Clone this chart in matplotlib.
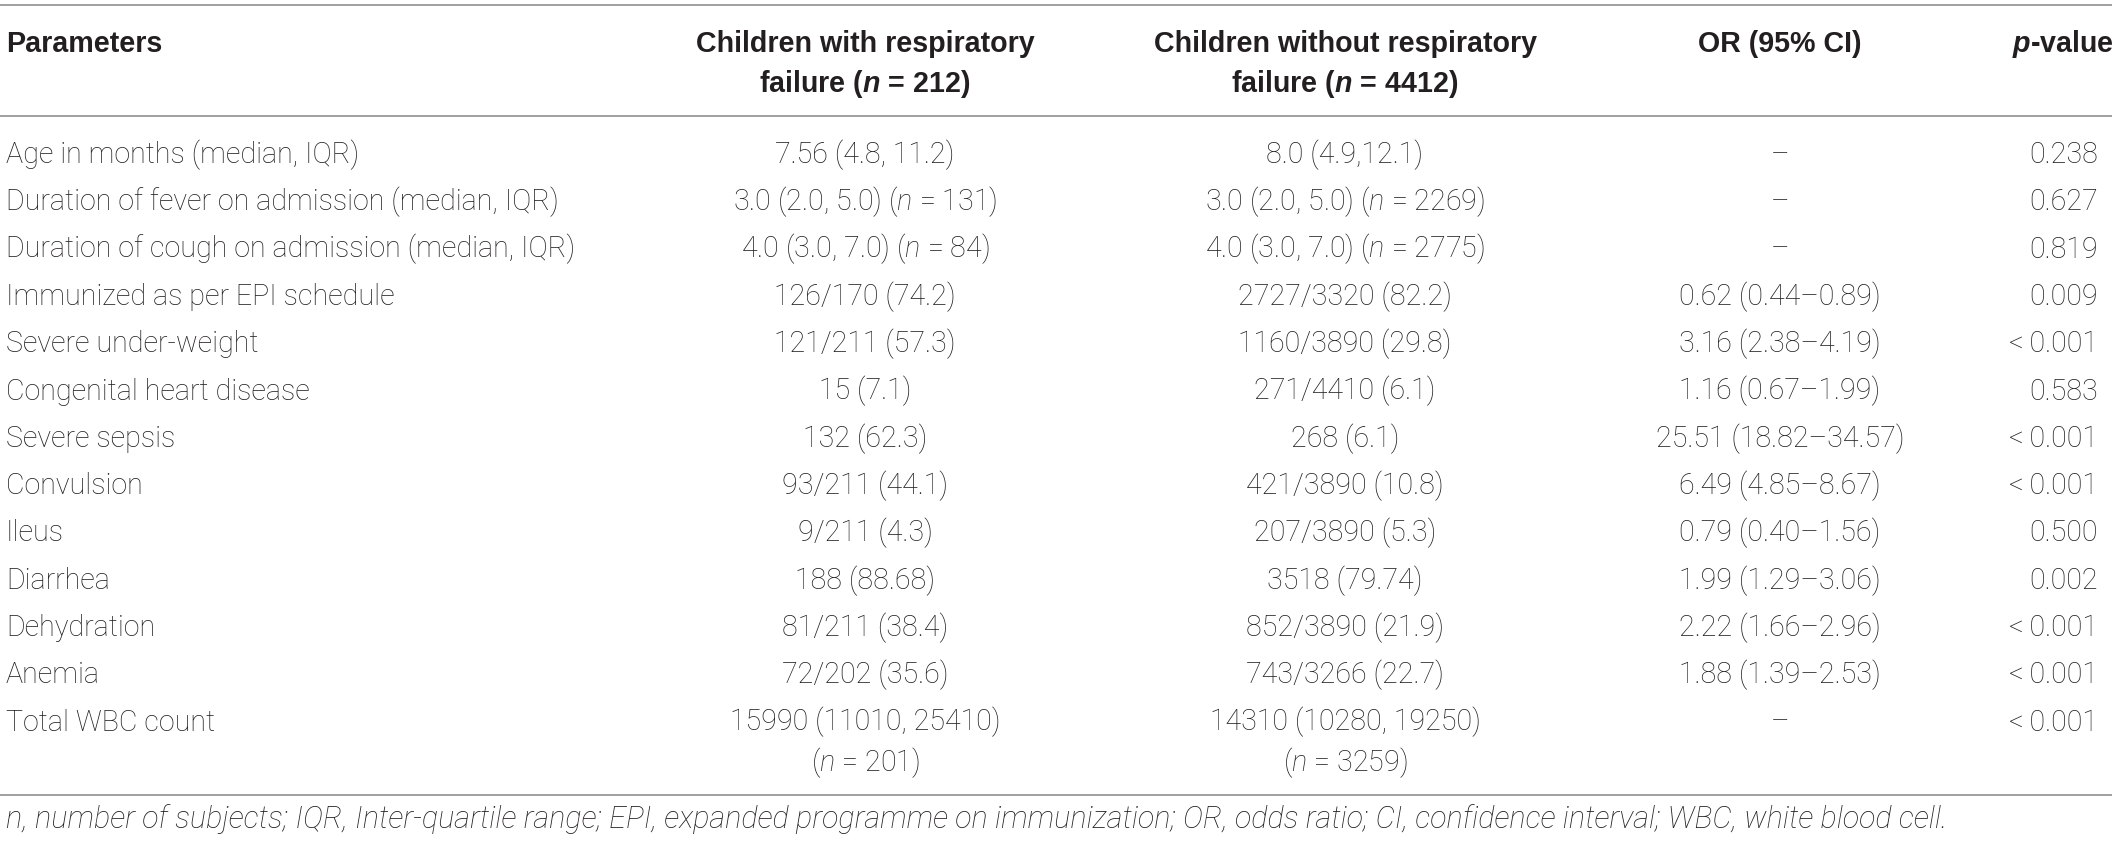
import matplotlib
matplotlib.use("Agg")
import matplotlib.pyplot as plt

plt.rcParams['font.family'] = ['Roboto', 'DejaVu Sans']
plt.rcParams['mathtext.fontset'] = 'custom'
plt.rcParams['mathtext.rm'] = 'Roboto:light'
plt.rcParams['mathtext.it'] = 'Roboto:italic:light'
plt.rcParams['mathtext.bf'] = 'Liberation Sans:bold'
plt.rcParams['mathtext.bfit'] = 'Liberation Sans:italic:bold'

N = r'$\mathit{n}$'
NB = r'$\mathbfit{n}$'

headers = ["Parameters",
           "Children with respiratory\nfailure (" + NB + " = 212)",
           "Children without respiratory\nfailure (" + NB + " = 4412)",
           "OR (95% CI)",
           r"$\mathbfit{p}$-value"]

parameters = ["Age in months (median, IQR)",
              "Duration of fever on admission (median, IQR)",
              "Duration of cough on admission (median, IQR)",
              "Immunized as per EPI schedule",
              "Severe under-weight",
              "Congenital heart disease",
              "Severe sepsis",
              "Convulsion",
              "Ileus",
              "Diarrhea",
              "Dehydration",
              "Anemia",
              "Total WBC count"]

with_rf = ["7.56 (4.8, 11.2)",
           "3.0 (2.0, 5.0) (" + N + " = 131)",
           "4.0 (3.0, 7.0) (" + N + " = 84)",
           "126/170 (74.2)",
           "121/211 (57.3)",
           "15 (7.1)",
           "132 (62.3)",
           "93/211 (44.1)",
           "9/211 (4.3)",
           "188 (88.68)",
           "81/211 (38.4)",
           "72/202 (35.6)",
           "15990 (11010, 25410)\n(" + N + " = 201)"]

without_rf = ["8.0 (4.9,12.1)",
              "3.0 (2.0, 5.0) (" + N + " = 2269)",
              "4.0 (3.0, 7.0) (" + N + " = 2775)",
              "2727/3320 (82.2)",
              "1160/3890 (29.8)",
              "271/4410 (6.1)",
              "268 (6.1)",
              "421/3890 (10.8)",
              "207/3890 (5.3)",
              "3518 (79.74)",
              "852/3890 (21.9)",
              "743/3266 (22.7)",
              "14310 (10280, 19250)\n(" + N + " = 3259)"]

odds_ratio = ["\u2013", "\u2013", "\u2013",
              "0.62 (0.44\u20130.89)",
              "3.16 (2.38\u20134.19)",
              "1.16 (0.67\u20131.99)",
              "25.51 (18.82\u201334.57)",
              "6.49 (4.85\u20138.67)",
              "0.79 (0.40\u20131.56)",
              "1.99 (1.29\u20133.06)",
              "2.22 (1.66\u20132.96)",
              "1.88 (1.39\u20132.53)",
              "\u2013"]

p_values = ["0.238", "0.627", "0.819", "0.009", "<\u20090.001", "0.583",
            "<\u20090.001", "<\u20090.001", "0.500", "0.002", "<\u20090.001",
            "<\u20090.001", "<\u20090.001"]

footnote = ("n, number of subjects; IQR, Inter-quartile range; EPI, expanded programme on "
            "immunization; OR, odds ratio; CI, confidence interval; WBC, white blood cell.")

W, H = 2121, 843
fig = plt.figure(figsize=(W / 100, H / 100), dpi=100)
ax = fig.add_axes([0, 0, 1, 1])
ax.set_xlim(0, W)
ax.set_ylim(H, 0)
ax.axis('off')

txt = '#231f20'
line_c = '#a0a0a0'
fs = 20.6
x_par, x_c1, x_c2, x_or, x_p, x_ph = 6, 865, 1345, 1780, 2098, 2114

for y in (5, 116, 795):
    ax.plot([0, 2112], [y, y], color=line_c, lw=1.4, solid_capstyle='butt')

# header
hk = dict(fontsize=fs, color=txt, va='baseline',
          family=['Liberation Sans', 'DejaVu Sans'], fontweight='bold')
hb1, hb2 = 52, 92
ax.text(x_par, hb1, headers[0], ha='left', **hk)
for xc, h in ((x_c1, headers[1]), (x_c2, headers[2])):
    for k, part in enumerate(h.split("\n")):
        ax.text(xc, hb1 + k * (hb2 - hb1), part, ha='center', **hk)
ax.text(x_or, hb1, headers[3], ha='center', **hk)
ax.text(x_ph, hb1, headers[4], ha='right', **hk)

# body
y0, dy, dsub = 163, 47.3, 41
dk = dict(fontsize=fs, color=txt, fontweight='light', va='baseline')
for i in range(len(parameters)):
    yb = y0 + i * dy
    ax.text(x_par, yb, parameters[i], ha='left', **dk)
    for xc, val in ((x_c1, with_rf[i]), (x_c2, without_rf[i])):
        for k, part in enumerate(val.split("\n")):
            ax.text(xc, yb + k * dsub, part, ha='center', **dk)
    ax.text(x_or, yb, odds_ratio[i], ha='center', **dk)
    ax.text(x_p, yb, p_values[i], ha='right', **dk)

ax.text(x_par, 828, footnote, ha='left', va='baseline', fontsize=22.0, color=txt,
        fontweight='light', fontstyle='italic')

fig.savefig('out.png', dpi=100)
